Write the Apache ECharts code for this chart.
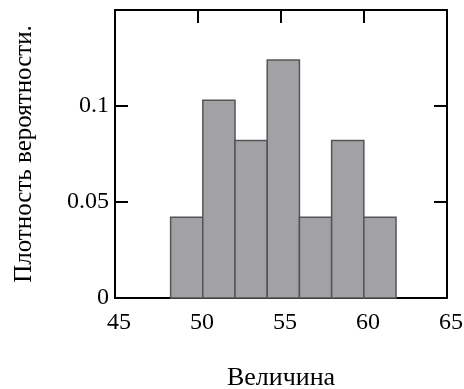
<!DOCTYPE html>
<html>
<head>
<meta charset="utf-8">
<script src="https://cdn.jsdelivr.net/npm/echarts@6/dist/echarts.min.js"></script>
<style>
  html, body { margin: 0; padding: 0; background: #fff; }
  #chart { width: 464px; height: 389px; }
</style>
</head>
<body>
<div id="chart"></div>
<script>
// histogram bins: left/right edges and probability density per bin
const binEdges = [48.35, 50.29, 52.23, 54.17, 56.11, 58.05, 59.99, 61.93];
const densities = [0.042, 0.103, 0.082, 0.124, 0.042, 0.082, 0.042];

const xTitle = "Величина";
const yTitle = "Плотность вероятности.";

const FONT = "Liberation Serif";

const bins = densities.map((d, i) => [binEdges[i], binEdges[i + 1], d]);

const chart = echarts.init(document.getElementById("chart"));

const frameLine = { show: true, onZero: false, lineStyle: { color: "#000", width: 2 } };
const innerTick = { show: true, inside: true, length: 13, lineStyle: { color: "#000", width: 2 } };

chart.setOption({
  animation: false,
  backgroundColor: "#fff",
  grid: { left: 115, right: 17, top: 10, bottom: 91, containLabel: false, outerBoundsMode: "none" },
  xAxis: [
    {
      type: "value",
      min: 45,
      max: 65,
      interval: 5,
      position: "bottom",
      axisLine: frameLine,
      axisTick: { show: false },
      splitLine: { show: false },
      axisLabel: {
        color: "#000",
        fontFamily: FONT,
        fontSize: 24,
        margin: 13,
        padding: [0, 0, 0, 8],
      },
      name: xTitle,
      nameLocation: "middle",
      nameGap: 67,
      nameTextStyle: { color: "#000", fontFamily: FONT, fontSize: 26 },
    },
    {
      type: "value",
      min: 45,
      max: 65,
      interval: 5,
      position: "top",
      axisLine: frameLine,
      axisTick: innerTick,
      axisLabel: { show: false },
      splitLine: { show: false },
    },
  ],
  yAxis: [
    {
      type: "value",
      min: 0,
      max: 0.15,
      interval: 0.05,
      position: "left",
      axisLine: frameLine,
      axisTick: innerTick,
      splitLine: { show: false },
      axisLabel: {
        color: "#000",
        fontFamily: FONT,
        fontSize: 24,
        margin: 6,
        showMaxLabel: false,
      },
      name: yTitle,
      nameLocation: "middle",
      nameGap: 78,
      nameTextStyle: { color: "#000", fontFamily: FONT, fontSize: 25 },
    },
    {
      type: "value",
      min: 0,
      max: 0.15,
      interval: 0.05,
      position: "right",
      axisLine: frameLine,
      axisTick: innerTick,
      axisLabel: { show: false },
      splitLine: { show: false },
    },
  ],
  series: [
    {
      type: "custom",
      xAxisIndex: 0,
      yAxisIndex: 0,
      data: bins,
      renderItem: (params, api) => {
        const p0 = api.coord([api.value(0), 0]);
        const p1 = api.coord([api.value(1), api.value(2)]);
        return {
          type: "rect",
          shape: { x: p0[0], y: p1[1], width: p1[0] - p0[0], height: p0[1] - p1[1] },
          style: { fill: "#a2a2a6", stroke: "#555", lineWidth: 1.5 },
        };
      },
    },
  ],
});
</script>
</body>
</html>
